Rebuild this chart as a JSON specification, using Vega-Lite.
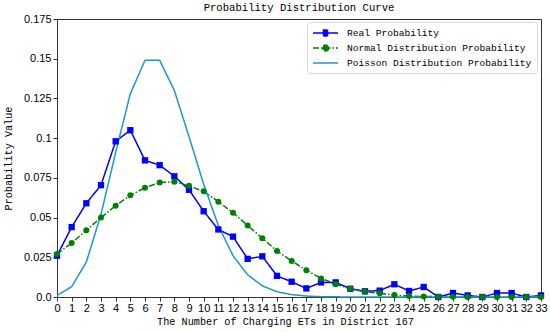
{
  "$schema": "https://vega.github.io/schema/vega-lite/v6.json",
  "width": 484,
  "height": 278,
  "autosize": "none",
  "padding": {"left": 57, "top": 19, "right": 9, "bottom": 35},
  "background": "white",
  "title": {"text": "Probability Distribution Curve", "font": "Liberation Mono", "fontSize": 10.6, "fontWeight": "normal", "color": "black", "offset": -1},
  "config": {"view": {"stroke": "#333", "strokeWidth": 1}, "axis": {"grid": false}},
  "data": {"values": [
    {"k":0,"series":"Real Probability","p":0.026},{"k":1,"series":"Real Probability","p":0.044},{"k":2,"series":"Real Probability","p":0.059},{"k":3,"series":"Real Probability","p":0.0704},{"k":4,"series":"Real Probability","p":0.098},{"k":5,"series":"Real Probability","p":0.105},{"k":6,"series":"Real Probability","p":0.086},{"k":7,"series":"Real Probability","p":0.083},{"k":8,"series":"Real Probability","p":0.076},{"k":9,"series":"Real Probability","p":0.0675},{"k":10,"series":"Real Probability","p":0.054},{"k":11,"series":"Real Probability","p":0.0425},{"k":12,"series":"Real Probability","p":0.038},{"k":13,"series":"Real Probability","p":0.024},{"k":14,"series":"Real Probability","p":0.0256},{"k":15,"series":"Real Probability","p":0.0133},{"k":16,"series":"Real Probability","p":0.0096},{"k":17,"series":"Real Probability","p":0.0054},{"k":18,"series":"Real Probability","p":0.0092},{"k":19,"series":"Real Probability","p":0.0092},{"k":20,"series":"Real Probability","p":0.0052},{"k":21,"series":"Real Probability","p":0.0036},{"k":22,"series":"Real Probability","p":0.004},{"k":23,"series":"Real Probability","p":0.008},{"k":24,"series":"Real Probability","p":0.0038},{"k":25,"series":"Real Probability","p":0.0063},{"k":26,"series":"Real Probability","p":0.0},{"k":27,"series":"Real Probability","p":0.0025},{"k":28,"series":"Real Probability","p":0.001},{"k":29,"series":"Real Probability","p":0.0},{"k":30,"series":"Real Probability","p":0.0025},{"k":31,"series":"Real Probability","p":0.0025},{"k":32,"series":"Real Probability","p":0.0},{"k":33,"series":"Real Probability","p":0.001},
    {"k":0,"series":"Normal Distribution Probability","p":0.027},{"k":1,"series":"Normal Distribution Probability","p":0.034},{"k":2,"series":"Normal Distribution Probability","p":0.042},{"k":3,"series":"Normal Distribution Probability","p":0.05},{"k":4,"series":"Normal Distribution Probability","p":0.0575},{"k":5,"series":"Normal Distribution Probability","p":0.064},{"k":6,"series":"Normal Distribution Probability","p":0.0688},{"k":7,"series":"Normal Distribution Probability","p":0.072},{"k":8,"series":"Normal Distribution Probability","p":0.0725},{"k":9,"series":"Normal Distribution Probability","p":0.07},{"k":10,"series":"Normal Distribution Probability","p":0.0665},{"k":11,"series":"Normal Distribution Probability","p":0.06},{"k":12,"series":"Normal Distribution Probability","p":0.053},{"k":13,"series":"Normal Distribution Probability","p":0.045},{"k":14,"series":"Normal Distribution Probability","p":0.037},{"k":15,"series":"Normal Distribution Probability","p":0.029},{"k":16,"series":"Normal Distribution Probability","p":0.0227},{"k":17,"series":"Normal Distribution Probability","p":0.0169},{"k":18,"series":"Normal Distribution Probability","p":0.0117},{"k":19,"series":"Normal Distribution Probability","p":0.0081},{"k":20,"series":"Normal Distribution Probability","p":0.0052},{"k":21,"series":"Normal Distribution Probability","p":0.0033},{"k":22,"series":"Normal Distribution Probability","p":0.0023},{"k":23,"series":"Normal Distribution Probability","p":0.0012},{"k":24,"series":"Normal Distribution Probability","p":0.0006},{"k":25,"series":"Normal Distribution Probability","p":0.0003},{"k":26,"series":"Normal Distribution Probability","p":0.0002},{"k":27,"series":"Normal Distribution Probability","p":0.0001},{"k":28,"series":"Normal Distribution Probability","p":0.00005},{"k":29,"series":"Normal Distribution Probability","p":0.00002},{"k":30,"series":"Normal Distribution Probability","p":0.00001},{"k":31,"series":"Normal Distribution Probability","p":0.0},{"k":32,"series":"Normal Distribution Probability","p":0.0},{"k":33,"series":"Normal Distribution Probability","p":0.0},
    {"k":0,"series":"Poisson Distribution Probability","p":0.001},{"k":1,"series":"Poisson Distribution Probability","p":0.0065},{"k":2,"series":"Poisson Distribution Probability","p":0.022},{"k":3,"series":"Poisson Distribution Probability","p":0.052},{"k":4,"series":"Poisson Distribution Probability","p":0.091},{"k":5,"series":"Poisson Distribution Probability","p":0.128},{"k":6,"series":"Poisson Distribution Probability","p":0.149},{"k":7,"series":"Poisson Distribution Probability","p":0.149},{"k":8,"series":"Poisson Distribution Probability","p":0.13},{"k":9,"series":"Poisson Distribution Probability","p":0.101},{"k":10,"series":"Poisson Distribution Probability","p":0.071},{"k":11,"series":"Poisson Distribution Probability","p":0.045},{"k":12,"series":"Poisson Distribution Probability","p":0.026},{"k":13,"series":"Poisson Distribution Probability","p":0.014},{"k":14,"series":"Poisson Distribution Probability","p":0.007},{"k":15,"series":"Poisson Distribution Probability","p":0.0033},{"k":16,"series":"Poisson Distribution Probability","p":0.0015},{"k":17,"series":"Poisson Distribution Probability","p":0.0006},{"k":18,"series":"Poisson Distribution Probability","p":0.0002},{"k":19,"series":"Poisson Distribution Probability","p":0.0001},{"k":20,"series":"Poisson Distribution Probability","p":0.00003},{"k":21,"series":"Poisson Distribution Probability","p":0.00001},{"k":22,"series":"Poisson Distribution Probability","p":0.0},{"k":23,"series":"Poisson Distribution Probability","p":0.0},{"k":24,"series":"Poisson Distribution Probability","p":0.0},{"k":25,"series":"Poisson Distribution Probability","p":0.0},{"k":26,"series":"Poisson Distribution Probability","p":0.0},{"k":27,"series":"Poisson Distribution Probability","p":0.0},{"k":28,"series":"Poisson Distribution Probability","p":0.0},{"k":29,"series":"Poisson Distribution Probability","p":0.0},{"k":30,"series":"Poisson Distribution Probability","p":0.0},{"k":31,"series":"Poisson Distribution Probability","p":0.0},{"k":32,"series":"Poisson Distribution Probability","p":0.0},{"k":33,"series":"Poisson Distribution Probability","p":0.0}
  ]},
  "encoding": {
    "x": {"field": "k", "type": "quantitative", "scale": {"domain": [0, 33], "nice": false, "zero": false},
      "axis": {"title": "The Number of Charging ETs in District 167", "titleFont": "Liberation Mono", "titleFontSize": 10.2, "titleFontWeight": "normal", "titleColor": "black", "titlePadding": 3, "titleX": 228,
        "values": [0,1,2,3,4,5,6,7,8,9,10,11,12,13,14,15,16,17,18,19,20,21,22,23,24,25,26,27,28,29,30,31,32,33],
        "labelFont": "Liberation Sans", "labelFontSize": 11, "labelColor": "black", "labelFlush": false, "labelOverlap": false, "labelPadding": 1, "tickSize": 4, "tickColor": "#333", "domainColor": "#333"}},
    "y": {"field": "p", "type": "quantitative", "scale": {"domain": [0, 0.175], "nice": false},
      "axis": {"title": "Probability Value", "titleFont": "Liberation Mono", "titleFontSize": 10.2, "titleFontWeight": "normal", "titleColor": "black", "titlePadding": 10,
        "values": [0, 0.025, 0.05, 0.075, 0.1, 0.125, 0.15, 0.175],
        "labelExpr": "datum.value == 0 ? '0.0' : format(datum.value, '.3~f')",
        "labelFont": "Liberation Sans", "labelFontSize": 11, "labelColor": "black", "labelPadding": 2, "tickSize": 4, "tickColor": "#333", "domainColor": "#333"}}
  },
  "layer": [
    {
      "mark": {"type": "line", "strokeWidth": 1.5},
      "encoding": {
        "color": {"field": "series", "type": "nominal",
          "scale": {"domain": ["Real Probability", "Normal Distribution Probability", "Poisson Distribution Probability"], "range": ["#0000ff", "#008000", "#1f95d0"]},
          "legend": {"title": null, "orient": "none", "legendX": 250, "legendY": 3, "padding": 5, "rowPadding": 3,
            "strokeColor": "#d6d6d6", "fillColor": "white", "cornerRadius": 3,
            "labelFont": "Liberation Mono", "labelFontSize": 9.6, "labelColor": "black", "labelOffset": 23, "labelLimit": 0,
            "symbolType": "M-1,0H4", "symbolSize": 100, "symbolStrokeWidth": 1.5,
            "encode": {"symbols": {"update": {
              "shape": {"signal": "datum.value == 'Real Probability' ? 'M-1,0H4M1.1,-0.6H1.9V0.6H1.1Z' : datum.value == 'Normal Distribution Probability' ? 'M-1,0H4M2.1,0A0.6,0.6,0,1,1,0.9,0A0.6,0.6,0,1,1,2.1,0Z' : 'M-1,0H4'"},
              "fill": {"signal": "scale('color', datum.value)"},
              "strokeDash": {"signal": "datum.value == 'Normal Distribution Probability' ? [6,2,1.5,2] : [1,0]"}
            }}}
          }},
        "strokeDash": {"field": "series", "type": "nominal", "legend": null,
          "scale": {"domain": ["Real Probability", "Normal Distribution Probability", "Poisson Distribution Probability"], "range": [[1,0],[6,2,1.5,2],[1,0]]}}
      }
    },
    {
      "transform": [{"filter": "datum.series == 'Real Probability'"}],
      "mark": {"type": "point", "shape": "square", "filled": true, "size": 40, "opacity": 1, "color": "#0000ff"}
    },
    {
      "transform": [{"filter": "datum.series == 'Normal Distribution Probability'"}],
      "mark": {"type": "point", "shape": "circle", "filled": true, "size": 36, "opacity": 1, "color": "#008000"}
    }
  ]
}
